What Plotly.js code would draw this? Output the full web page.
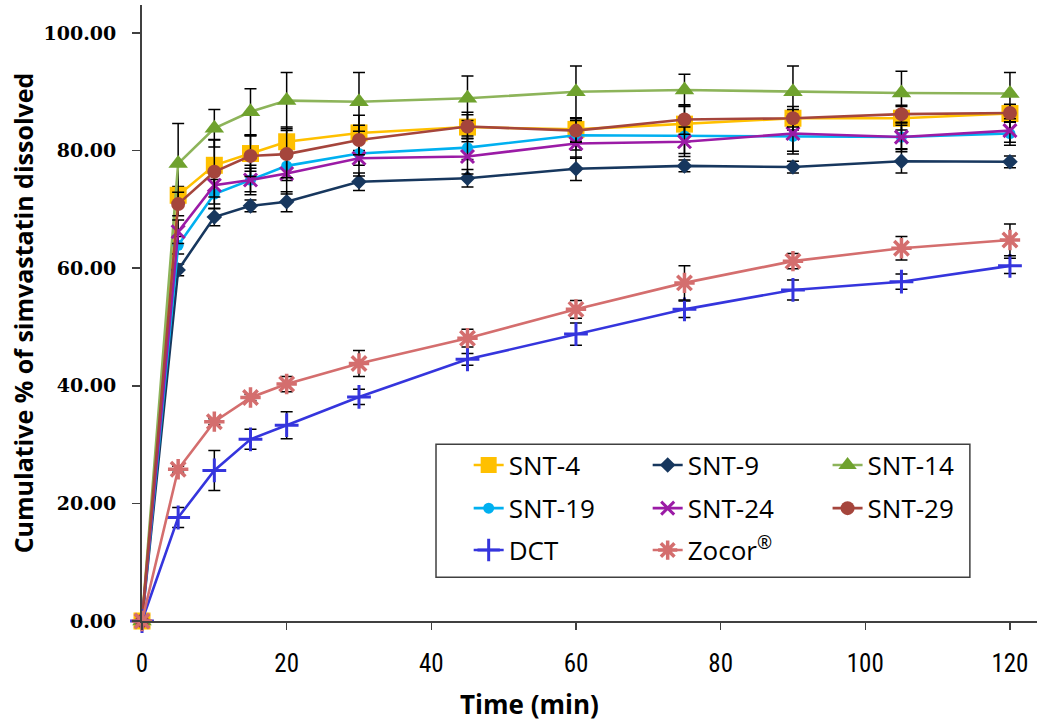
<!DOCTYPE html>
<html><head><meta charset="utf-8">
<script src="https://cdn.plot.ly/plotly-3.0.1.min.js"></script>
<style>html,body{margin:0;padding:0;background:#fff}</style>
</head><body>
<div id="chart" style="width:1037px;height:721px"></div>
<script>
const time = [0, 5, 10, 15, 20, 30, 45, 60, 75, 90, 105, 120];
const seriesNames = ["SNT-4", "SNT-9", "SNT-14", "SNT-19", "SNT-24", "SNT-29", "DCT", "Zocor<sup>\u00ae</sup>"];

const snt4  = [0, 72.4, 77.5, 79.5, 81.5, 83.0, 84.0, 83.6, 84.5, 85.5, 85.5, 86.3];
const snt9  = [0, 59.7, 68.7, 70.6, 71.3, 74.7, 75.3, 76.9, 77.4, 77.2, 78.2, 78.1];
const snt14 = [0, 77.8, 83.8, 86.6, 88.5, 88.3, 88.9, 90.0, 90.3, 90.0, 89.8, 89.7];
const snt19 = [0, 63.9, 72.6, 75.0, 77.4, 79.5, 80.5, 82.6, 82.5, 82.4, 82.3, 82.9];
const snt24 = [0, 66.2, 74.1, 75.0, 76.1, 78.7, 79.0, 81.2, 81.5, 82.9, 82.3, 83.4];
const snt29 = [0, 70.9, 76.4, 79.1, 79.4, 81.8, 84.1, 83.4, 85.3, 85.5, 86.2, 86.4];
const dct   = [0, 17.6, 25.6, 30.9, 33.3, 38.1, 44.5, 48.8, 53.0, 56.3, 57.7, 60.4];
const zocor = [0, 25.8, 33.9, 38.0, 40.3, 43.8, 48.1, 53.0, 57.5, 61.2, 63.4, 64.8];

const snt4Err  = [0, 1.5, 4.3, 3.0, 2.5, 3.0, 2.5, 2.0, 3.0, 2.0, 2.0, 1.5];
const snt9Err  = [0, 1.0, 1.5, 1.0, 1.7, 1.5, 1.5, 2.0, 1.0, 1.0, 2.0, 1.0];
const snt14Err = [0, 6.8, 3.2, 3.9, 4.8, 5.0, 3.8, 4.4, 2.7, 4.4, 3.7, 3.6];
const snt19Err = [0, 1.5, 2.5, 2.0, 2.5, 2.0, 2.0, 2.5, 3.0, 3.0, 2.5, 2.0];
const snt24Err = [0, 2.0, 2.0, 2.5, 3.5, 3.0, 3.0, 2.5, 2.5, 3.0, 2.0, 2.0];
const snt29Err = [0, 2.0, 5.5, 3.5, 4.0, 2.5, 2.0, 2.0, 2.5, 1.5, 1.5, 1.5];
const dctErr   = [0, 1.7, 3.4, 1.7, 2.3, 1.3, 1.0, 1.9, 1.4, 1.7, 1.3, 1.3];
const zocorErr = [0, 0.5, 0.5, 0.5, 1.3, 2.2, 1.5, 1.5, 2.9, 1.3, 2.0, 2.7];

const yTickVals = [0, 20, 40, 60, 80, 100];
const xTickVals = [0, 20, 40, 60, 80, 100, 120];

const values = [snt4, snt9, snt14, snt19, snt24, snt29, dct, zocor];
const errs = [snt4Err, snt9Err, snt14Err, snt19Err, snt24Err, snt29Err, dctErr, zocorErr];

const styles = [
  {line: '#FFC000', mk: '#FFC000', sym: 'square', size: 17, lw: 0},
  {line: '#17375E', mk: '#17375E', sym: 'diamond', size: 12, lw: 0},
  {line: '#8DB45A', mk: '#6FA22E', sym: 'triangle-up', size: 17, lw: 0},
  {line: '#00B0F0', mk: '#00B0F0', sym: 'circle', size: 11, lw: 0},
  {line: '#9B1BA6', mk: '#9B1BA6', sym: 'x-thin', size: 13, lw: 3},
  {line: '#A5453C', mk: '#A5453C', sym: 'circle', size: 14, lw: 0},
  {line: '#3535DD', mk: '#3535DD', sym: 'cross-thin', size: 17, lw: 3},
  {line: '#D46E6E', mk: '#D46E6E', sym: 'asterisk', size: 17, lw: 3.5}
];

// legend item positions (paper coords): columns & rows
const legCols = [0.365, 0.565, 0.766];
const legRows = [0.253, 0.183, 0.115];

const traces = [];
const legends = {};
values.forEach((v, i) => {
  const s = styles[i];
  const key = i === 0 ? 'legend' : 'legend' + (i + 1);
  traces.push({
    type: 'scatter', mode: 'lines+markers',
    x: time, y: v, name: seriesNames[i], legend: key,
    cliponaxis: false,
    line: {color: s.line, width: 2.6},
    marker: {symbol: s.sym, size: s.size, color: s.mk,
             line: {width: s.lw, color: s.mk}},
    error_y: {type: 'data', array: errs[i], visible: true,
              color: '#000000', thickness: 1.5, width: 6}
  });
  legends[key] = {
    x: legCols[i % 3], y: legRows[Math.floor(i / 3)],
    xanchor: 'left', yanchor: 'middle',
    bgcolor: 'rgba(0,0,0,0)', borderwidth: 0,
    font: {family: 'Open Sans, sans-serif', size: 26, color: '#000'}
  };
});

const layout = Object.assign({
  width: 1037, height: 721,
  margin: {l: 142, r: 0, t: 5, b: 100, autoexpand: false},
  paper_bgcolor: '#fff', plot_bgcolor: '#fff',
  showlegend: true,
  xaxis: {
    range: [0, 123.74], tickvals: xTickVals, ticktext: xTickVals.map(String),
    ticks: 'outside', ticklen: 7, tickwidth: 1.5, tickcolor: '#404040',
    showline: true, linecolor: '#404040', linewidth: 2,
    showgrid: false, zeroline: false, automargin: false,
    ticklabelstandoff: 12,
    tickfont: {family: 'Liberation Sans Narrow, Roboto Condensed, Roboto, sans-serif', size: 25, color: '#000'}
  },
  yaxis: {
    range: [0, 104.76], tickvals: yTickVals, tickformat: '.2f',
    ticks: 'outside', ticklen: 8, tickwidth: 1.5, tickcolor: '#404040',
    showline: true, linecolor: '#404040', linewidth: 2,
    showgrid: false, zeroline: false, automargin: false,
    ticklabelstandoff: 12,
    tickfont: {family: 'DejaVu Serif, serif', size: 19, color: '#000', weight: 'bold'},
    title: {text: 'Cumulative % of simvastatin dissolved', standoff: 3,
            font: {family: 'Open Sans, sans-serif', size: 25, color: '#000', weight: 'bold'}}
  },
  shapes: [{
    type: 'rect', xref: 'paper', yref: 'paper', layer: 'below',
    x0: 0.3285, x1: 0.925, y0: 0.071, y1: 0.287,
    line: {color: '#404040', width: 1.5}, fillcolor: '#ffffff'
  }],
  annotations: [{
    text: 'Time (min)', xref: 'paper', yref: 'paper',
    x: 0.4335, y: -0.135, xanchor: 'center', yanchor: 'middle', showarrow: false,
    font: {family: 'Open Sans, sans-serif', size: 26, color: '#000', weight: 'bold'}
  }]
}, legends);

Plotly.newPlot('chart', traces, layout, {displayModeBar: false, staticPlot: true});
</script>
</body></html>
